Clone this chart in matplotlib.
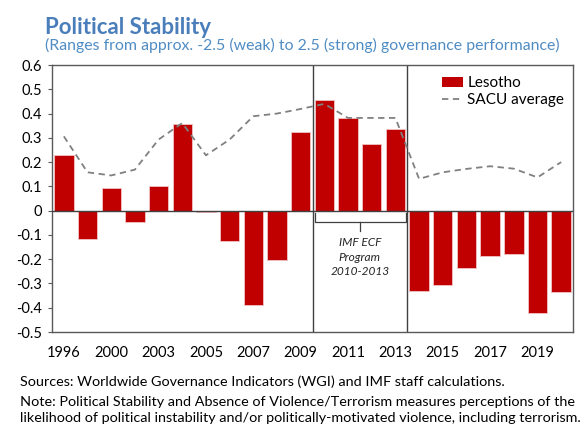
import numpy as np
import matplotlib.pyplot as plt
from matplotlib.patches import Patch
from matplotlib.lines import Line2D

plt.rcParams.update({
    "font.family": ["Lato", "DejaVu Sans"],
    "axes.unicode_minus": False,
})

years = ["1996", "1998", "2000", "2002", "2003", "2004", "2005", "2006", "2007", "2008", "2009",
         "2010", "2011", "2012", "2013", "2014", "2015", "2016", "2017", "2018", "2019", "2020"]
lesotho = [0.231, -0.117, 0.095, -0.045, 0.100, 0.357, -0.005, -0.125, -0.387, -0.205, 0.325,
           0.455, 0.383, 0.273, 0.336, -0.332, -0.306, -0.235, -0.187, -0.179, -0.420, -0.334]
sacu = [0.306, 0.158, 0.145, 0.169, 0.293, 0.361, 0.228, 0.293, 0.389, 0.400, 0.419,
        0.440, 0.382, 0.382, 0.382, 0.131, 0.158, 0.172, 0.183, 0.173, 0.137, 0.200]
yticks = [0.6, 0.5, 0.4, 0.3, 0.2, 0.1, 0, -0.1, -0.2, -0.3, -0.4, -0.5]

fig = plt.figure(figsize=(5.85, 4.25), dpi=100)
ax = fig.add_axes([0.0889, 0.2188, 0.8906, 0.6282])

x = np.arange(len(years))
ax.bar(x, lesotho, width=0.82, color="#C00000", edgecolor="#f2c4c4", linewidth=0.6, zorder=2)
ax.plot(x, sacu, color="#808080", linestyle=(0, (3.5, 2.5)), linewidth=1.3, zorder=3)
ax.axhline(0, color="#404040", linewidth=1.0, zorder=4)

# program period markers
for xv in [10.5, 14.5]:
    ax.axvline(xv, color="#404040", linewidth=1.0, zorder=1)

ax.plot([10.6, 10.6, 14.45, 14.45], [-0.01, -0.045, -0.045, -0.01], color="#404040", linewidth=0.9)
ax.plot([12.5, 12.5], [-0.045, -0.085], color="#404040", linewidth=0.9)
ax.text(12.5, -0.192, "IMF ECF\nProgram\n2010-2013", ha="center", va="center",
        fontsize=8.6, style="italic", color="#262626", linespacing=1.4)

ax.set_xlim(-0.5, 21.5)
ax.set_ylim(-0.5, 0.6)
ax.set_yticks(yticks)
ax.set_yticklabels(["%g" % v if v != 0 else "0" for v in yticks], fontsize=10.5)
ax.set_xticks(x[::2])
ax.set_xticklabels(years[::2][:1] + [years[i] for i in range(2, 22, 2)], fontsize=10.5)
ax.tick_params(axis="x", length=0, pad=10)
ax.tick_params(axis="y", length=3, color="#595959", pad=4)
for s in ax.spines.values():
    s.set_color("#595959")
    s.set_linewidth(1.0)

handles = [Patch(facecolor="#C00000", edgecolor="none"),
           Line2D([0], [0], color="#808080", linestyle=(0, (3.5, 2.5)), linewidth=1.3)]
leg = fig.legend(handles, ["Lesotho", "SACU average"], loc="upper left",
                 bbox_to_anchor=(0.745, 0.835), frameon=False, fontsize=11,
                 handlelength=1.35, handletextpad=0.3, labelspacing=0.2, borderaxespad=0)

fig.text(0.077, 0.935, "Political Stability", fontsize=16, fontweight="bold", color="#4A7EBB",
         va="center", ha="left")
fig.text(0.077, 0.892, "(Ranges from approx. -2.5 (weak) to 2.5 (strong) governance performance)",
         fontsize=11.4, color="#4F8CC4", va="center", ha="left")

fig.text(0.034, 0.101, "Sources: Worldwide Governance Indicators (WGI) and IMF staff calculations.",
         fontsize=10.4, va="center", ha="left")
fig.text(0.034, 0.054, "Note: Political Stability and Absence of Violence/Terrorism measures perceptions of the",
         fontsize=10.4, va="center", ha="left")
fig.text(0.034, 0.016, "likelihood of political instability and/or politically-motivated violence, including terrorism.",
         fontsize=10.4, va="center", ha="left")

fig.savefig("out.png", dpi=100)
